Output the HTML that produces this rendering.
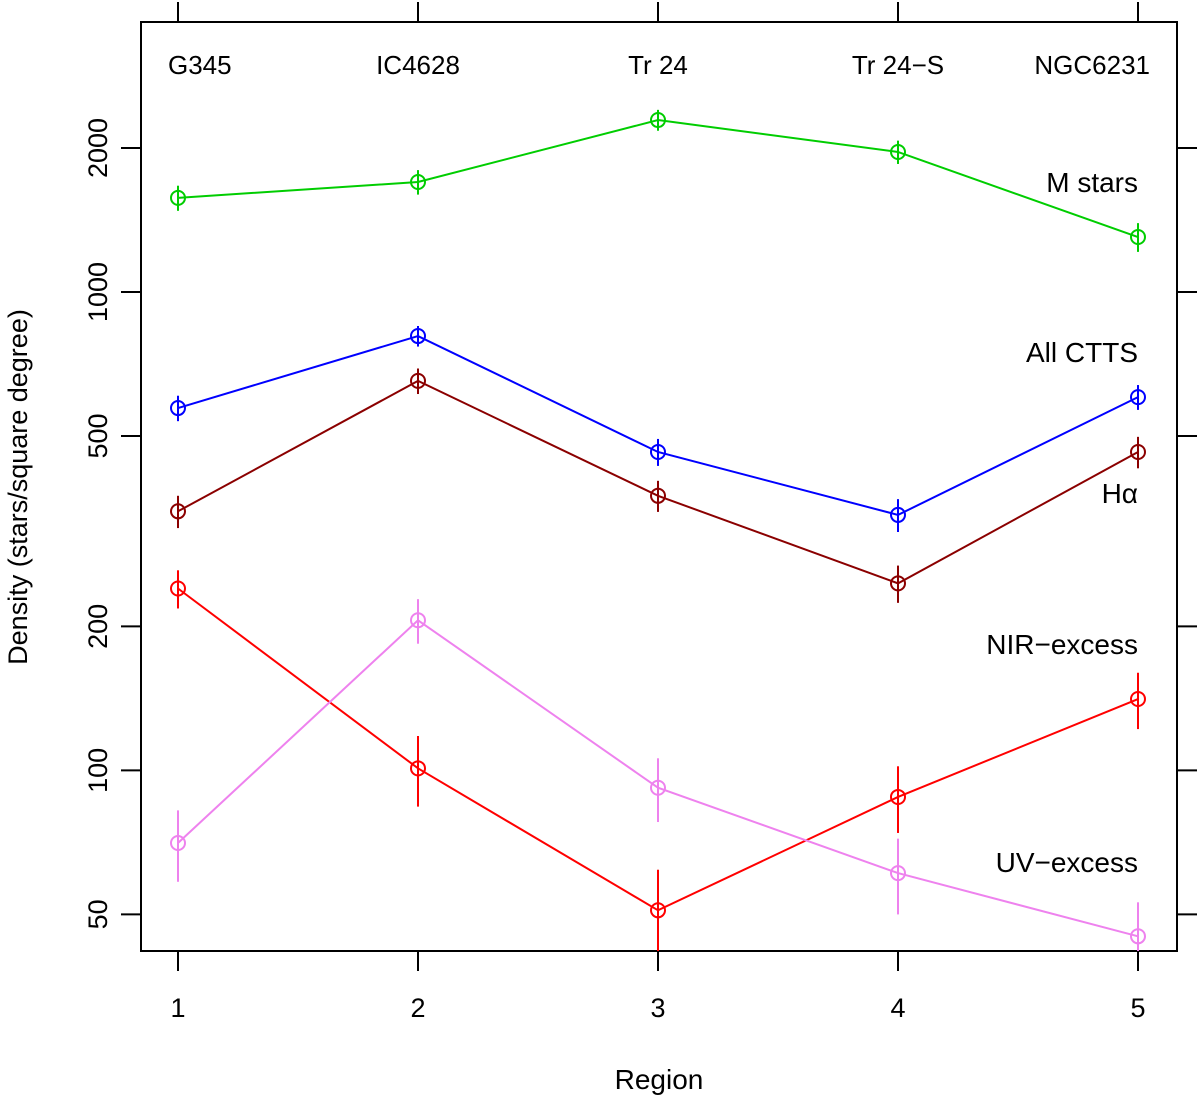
<!DOCTYPE html>
<html><head><meta charset="utf-8"><style>
html,body{margin:0;padding:0;background:#fff;}
svg text{font-family:"Liberation Sans",Helvetica,Arial,sans-serif;fill:#000;}
</style></head><body>
<svg id="chart" width="1200" height="1098" xmlns="http://www.w3.org/2000/svg">
<defs><clipPath id="pc"><rect x="141" y="22" width="1036" height="929"/></clipPath></defs>
<rect x="141" y="22" width="1036" height="929" fill="none" stroke="#000" stroke-width="2"/>
<g id="axes"></g>
<g id="series" clip-path="url(#pc)"></g>
<text x="659" y="1089" font-size="28" text-anchor="middle">Region</text>
<text transform="translate(27,487) rotate(-90)" font-size="27" text-anchor="middle">Density (stars/square degree)</text>
</svg>
<script>
const regions=[1,2,3,4,5];
const regionNames=["G345","IC4628","Tr 24","Tr 24\u2212S","NGC6231"];
const yTicks=[50,100,200,500,1000,2000];
const mStars=[1573,1698,2288,1962,1303];
const mStarsErr=[95,100,115,110,90];
const allCtts=[572,809,463,342,603];
const allCttsErr=[35,40,30,27,36];
const halpha=[348,652,375,246,463];
const halphaErr=[27,40,28,22,35];
const nirExcess=[240,101,51,88,141];
const nirExcessErr=[22,17,11,14,19];
const uvExcess=[70.5,206,92,61,45];
const uvExcessErr=[12,22,14,11,8];

const NS="http://www.w3.org/2000/svg";
const xS=v=>178+(v-1)*240;
const yS=v=>292-478.4*Math.log10(v/1000);
function mk(tag,attrs,parent){const e=document.createElementNS(NS,tag);for(const k in attrs)e.setAttribute(k,attrs[k]);parent.appendChild(e);return e;}
const axes=document.getElementById('axes');
const ser=document.getElementById('series');
regions.forEach((r,i)=>{
  const x=xS(r);
  let t=mk('line',{x1:x,x2:x,y1:951,y2:971,stroke:'#000','stroke-width':2},axes);
  
  
  t=mk('line',{x1:x,x2:x,y1:2,y2:22,stroke:'#000','stroke-width':2},axes);
  
  
  let l=mk('text',{x:x,y:1017,'font-size':27,'text-anchor':'middle'},axes);l.textContent=r;
  
  
  l=mk('text',{x:i==4?1150:(i==0?168:x),y:74,'font-size':26,'text-anchor':i==4?'end':(i==0?'start':'middle')},axes);l.textContent=regionNames[i];
  
  
});
yTicks.forEach(v=>{
  const y=yS(v);
  let t=mk('line',{x1:121,x2:141,y1:y,y2:y,stroke:'#000','stroke-width':2},axes);
  
  
  t=mk('line',{x1:1177,x2:1197,y1:y,y2:y,stroke:'#000','stroke-width':2},axes);
  
  
  const l=mk('text',{transform:`translate(107,${y}) rotate(-90)`,'font-size':27,'text-anchor':'middle'},axes);l.textContent=v;
  
  
});
const seriesList=[
 {name:'m-stars',vals:mStars,err:mStarsErr,color:'#00cd00',label:'M stars',ly:192},
 {name:'all-ctts',vals:allCtts,err:allCttsErr,color:'#0000ff',label:'All CTTS',ly:362},
 {name:'h-alpha',vals:halpha,err:halphaErr,color:'#8b0000',label:'H\u03b1',ly:503},
 {name:'nir-excess',vals:nirExcess,err:nirExcessErr,color:'#ff0000',label:'NIR\u2212excess',ly:654},
 {name:'uv-excess',vals:uvExcess,err:uvExcessErr,color:'#ee82ee',label:'UV\u2212excess',ly:872}
];
seriesList.forEach(s=>{
  const g=mk('g',{},ser);
  
  
  const pts=regions.map((r,i)=>xS(r)+','+yS(s.vals[i])).join(' ');
  const pl=mk('polyline',{points:pts,fill:'none',stroke:s.color,'stroke-width':2},g);
  
  
  regions.forEach((r,i)=>{
    const x=xS(r),v=s.vals[i],e=s.err[i];
    const eb=mk('line',{x1:x,x2:x,y1:yS(v+e),y2:yS(Math.max(v-e,1)),stroke:s.color,'stroke-width':2},g);
    
    
    const c=mk('circle',{cx:x,cy:yS(v),r:7,fill:'none',stroke:s.color,'stroke-width':2},g);
    
    
  });
  const t=mk('text',{x:1138,y:s.ly,'font-size':28,'text-anchor':'end'},g);t.textContent=s.label;
  
  
});
</script>
</body></html>
